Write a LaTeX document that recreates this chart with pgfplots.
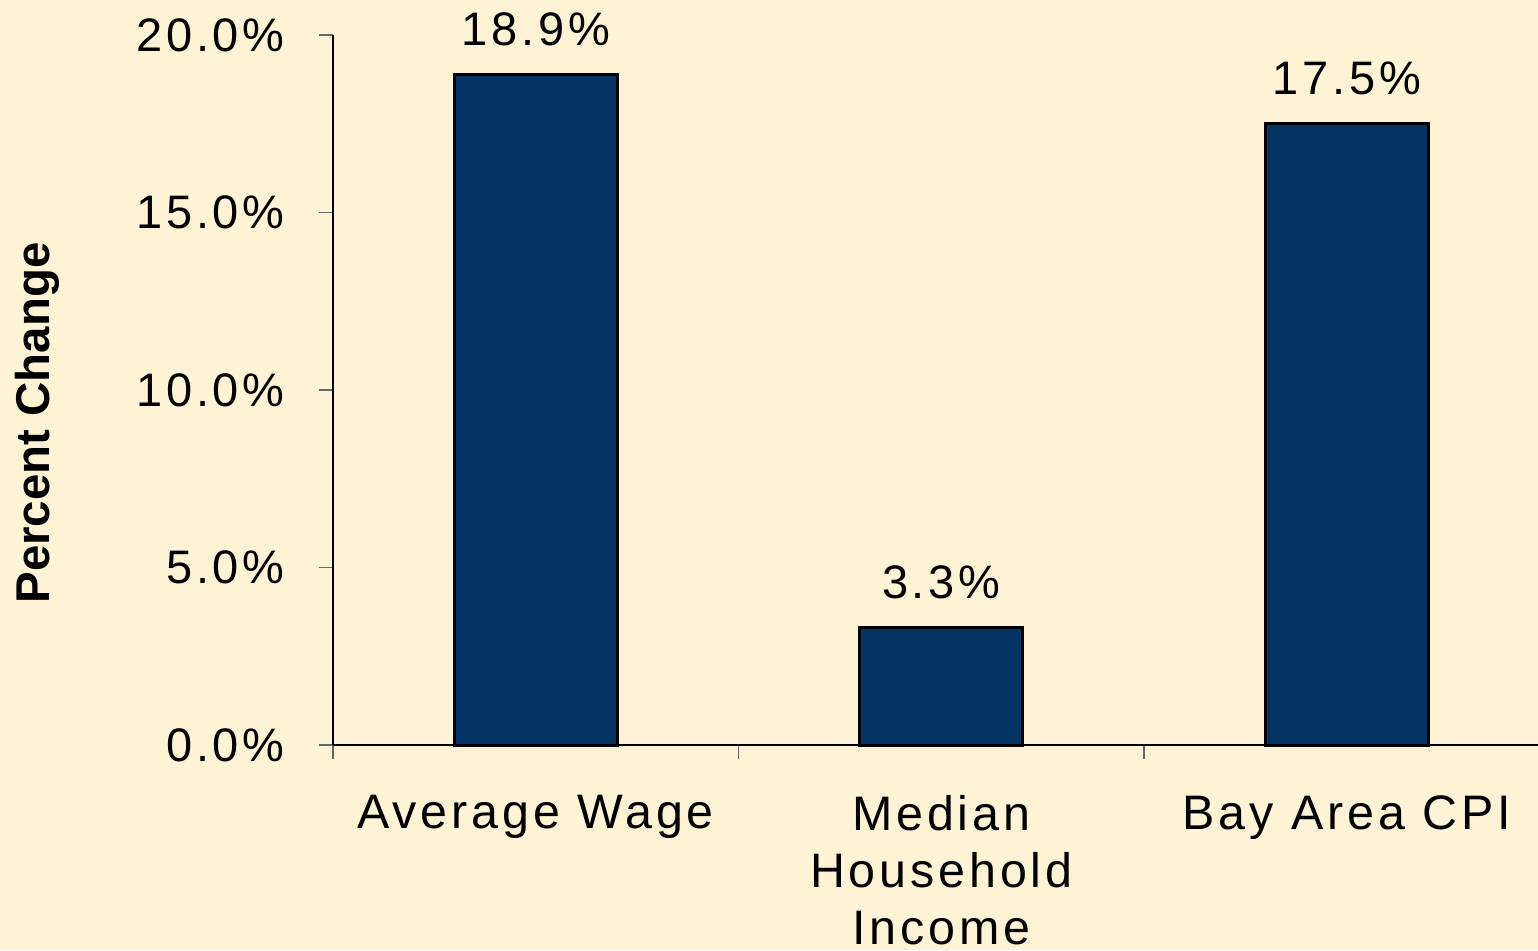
\documentclass[border=0pt]{standalone}
\usepackage{fontspec}
\setmainfont{Liberation Sans}[LetterSpace=8]
\newfontfamily\labfont{Liberation Sans}
\usepackage{pgfplots}
\pgfplotsset{compat=1.18}
\definecolor{bg}{HTML}{FEF3D5}
\definecolor{bar}{HTML}{023363}
\begin{document}
\begin{tikzpicture}
\path[use as bounding box, fill=bg] (0,0) rectangle (769pt,475pt);
\begin{axis}[
  at={(166.5pt,102.5pt)}, anchor=south west,
  scale only axis, width=608.25pt, height=355pt,
  xmin=0, xmax=3, ymin=0, ymax=20,
  axis lines*=left,
  axis line style={black, line width=0.6pt},
  xtick={0,1,2,3},
  x tick label as interval=true,
  xticklabels={Average Wage,{Median\\Household\\Income},Bay Area CPI},
  ytick={0,5,10,15,20},
  yticklabel={\pgfmathprintnumber[fixed,fixed zerofill,precision=1]{\tick}\%},
  /pgf/number format/assume math mode=true,
  tick align=outside,
  major tick length=7pt,
  tick style={black!60, line width=0.6pt},
  yticklabel style={anchor=east, inner sep=0pt, xshift=-17pt, font=\fontsize{23.5}{28.5}\selectfont},
  xticklabel style={anchor=north, inner sep=0pt, align=center, yshift=-18pt, font=\fontsize{24.2}{28.5}\selectfont},
  ylabel={\labfont\bfseries Percent Change},
  ylabel style={at={(axis description cs:-0.2433,0.4535)}, anchor=center, font=\fontsize{23.7}{28}\selectfont},
  clip=false,
]
\addplot[ybar, bar width=81.5pt, fill=bar, draw=black, line width=1.5pt,
  nodes near coords={\pgfmathprintnumber[fixed,fixed zerofill,precision=1]{\pgfplotspointmeta}\%},
  every node near coord/.append style={anchor=base, inner sep=0pt, yshift=14.5pt, text=black, font=\fontsize{23.5}{28.5}\selectfont}]
  coordinates {(0.5,18.9) (1.5,3.3) (2.5,17.5)};
\end{axis}
\end{tikzpicture}
\end{document}
